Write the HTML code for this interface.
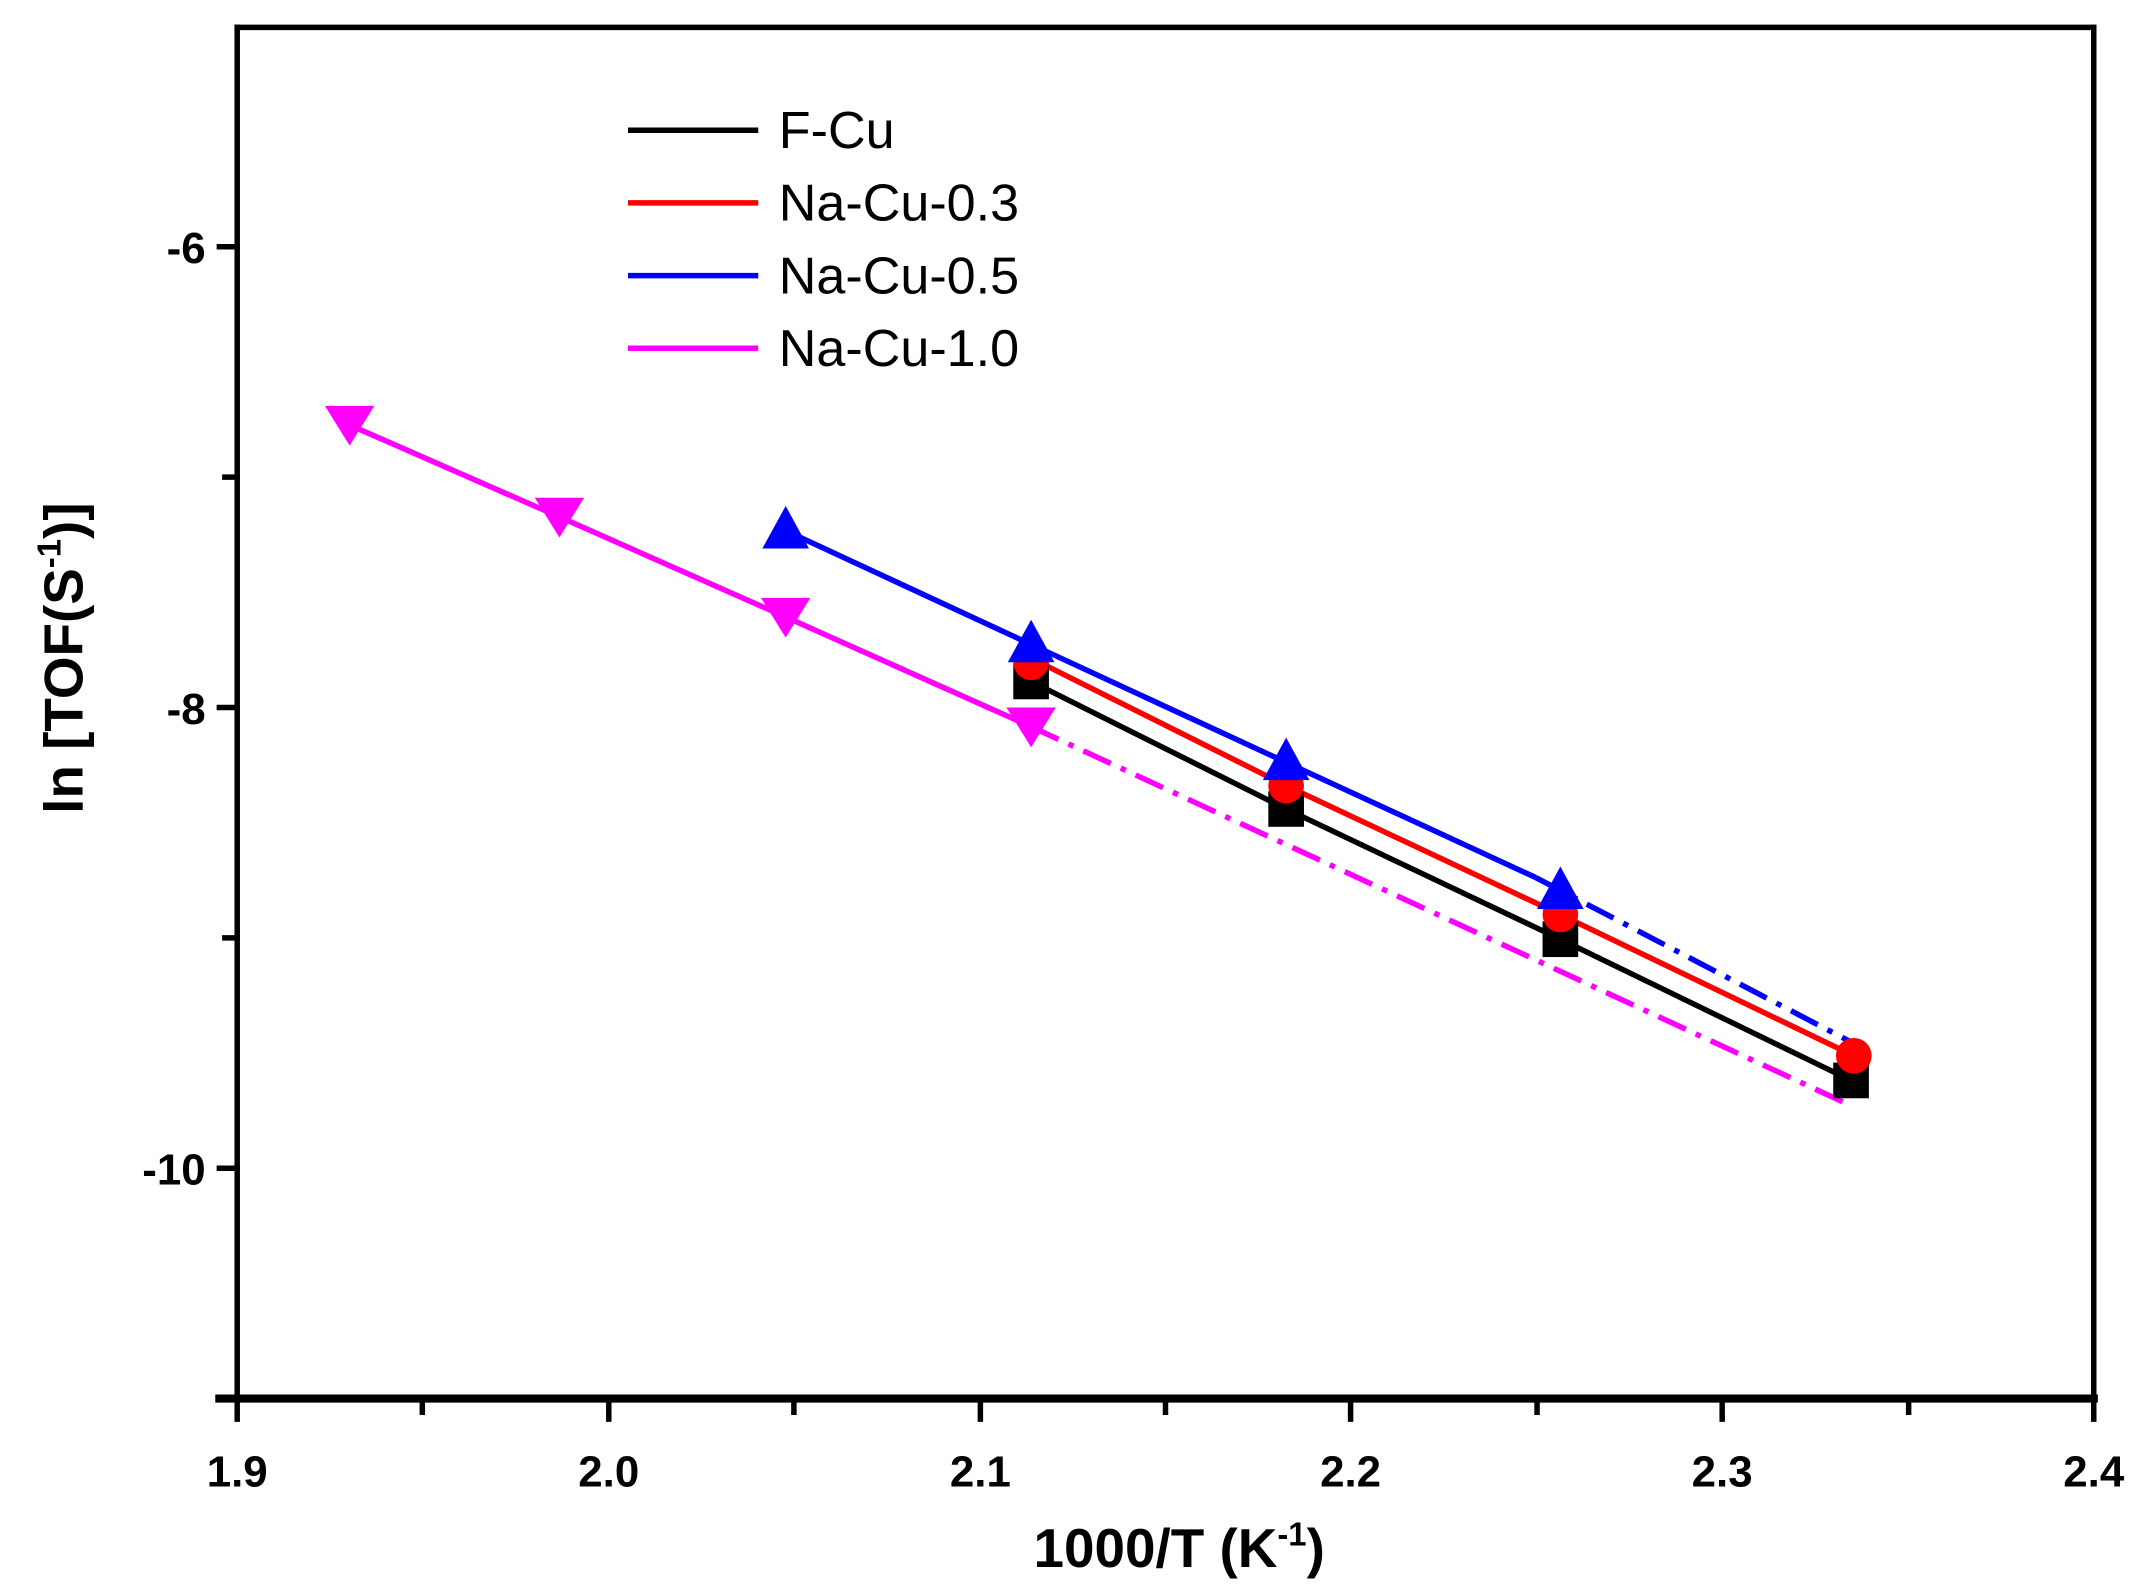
<!DOCTYPE html>
<html><head><meta charset="utf-8"><style>
html,body{margin:0;padding:0;background:#fff;}
svg{display:block;}
text{font-family:"Liberation Sans",Arial,sans-serif;}
</style></head><body>
<svg width="2139" height="1596" viewBox="0 0 1560 1164" preserveAspectRatio="none" xmlns="http://www.w3.org/2000/svg">
<rect width="1560" height="1164" fill="#fff"/>
<g stroke="#000" fill="none" stroke-linecap="square">
<line x1="173" y1="20" x2="1527" y2="20" stroke-width="4"/>
<line x1="1527" y1="20" x2="1527" y2="1020" stroke-width="4"/>
<line x1="173" y1="20" x2="173" y2="1020" stroke-width="4"/>
<line x1="160" y1="1020" x2="1527" y2="1020" stroke-width="6"/>
<line x1="160" y1="180" x2="173" y2="180" stroke-width="4"/>
<line x1="160" y1="516" x2="173" y2="516" stroke-width="4"/>
<line x1="160" y1="852" x2="173" y2="852" stroke-width="4"/>
<line x1="164" y1="348" x2="173" y2="348" stroke-width="4"/>
<line x1="164" y1="684" x2="173" y2="684" stroke-width="4"/>
<line x1="173" y1="1020" x2="173" y2="1035" stroke-width="4"/>
<line x1="444" y1="1020" x2="444" y2="1035" stroke-width="4"/>
<line x1="715" y1="1020" x2="715" y2="1035" stroke-width="4"/>
<line x1="985" y1="1020" x2="985" y2="1035" stroke-width="4"/>
<line x1="1256" y1="1020" x2="1256" y2="1035" stroke-width="4"/>
<line x1="1527" y1="1020" x2="1527" y2="1035" stroke-width="4"/>
<line x1="308" y1="1020" x2="308" y2="1030" stroke-width="4"/>
<line x1="579" y1="1020" x2="579" y2="1030" stroke-width="4"/>
<line x1="850" y1="1020" x2="850" y2="1030" stroke-width="4"/>
<line x1="1121" y1="1020" x2="1121" y2="1030" stroke-width="4"/>
<line x1="1392" y1="1020" x2="1392" y2="1030" stroke-width="4"/>
</g>
<g font-size="32" font-weight="bold" fill="#000">
<text x="150" y="192" text-anchor="end">-6</text>
<text x="150" y="528" text-anchor="end">-8</text>
<text x="150" y="864" text-anchor="end">-10</text>
<g text-anchor="middle">
<text x="173" y="1084">1.9</text>
<text x="444" y="1084">2.0</text>
<text x="715" y="1084">2.1</text>
<text x="985" y="1084">2.2</text>
<text x="1256" y="1084">2.3</text>
<text x="1527" y="1084">2.4</text>
</g>
</g>
<text x="860" y="1143" text-anchor="middle" font-size="40" font-weight="bold">1000/T (K<tspan font-size="24" dy="-16">-1</tspan><tspan dy="16">)</tspan></text>
<text transform="translate(60,480) rotate(-90)" text-anchor="middle" font-size="40" font-weight="bold">ln [TOF(S<tspan font-size="24" dy="-16">-1</tspan><tspan dy="16">)]</tspan></text>
<g stroke-width="4">
<line x1="458" y1="95" x2="553" y2="95" stroke="#000"/>
<line x1="458" y1="148" x2="553" y2="148" stroke="#f00"/>
<line x1="458" y1="201" x2="553" y2="201" stroke="#00f"/>
<line x1="458" y1="254" x2="553" y2="254" stroke="#f0f"/>
</g>
<g font-size="38" fill="#000">
<text x="568" y="108">F-Cu</text>
<text x="568" y="161">Na-Cu-0.3</text>
<text x="568" y="214">Na-Cu-0.5</text>
<text x="568" y="267">Na-Cu-1.0</text>
</g>
<g fill="none" stroke-width="4">
<polyline points="255,310 408,377 573,450 752,530" stroke="#f0f"/>
<line x1="752" y1="530" x2="1347" y2="805" stroke="#f0f" stroke-dasharray="22,8,4,8"/>
<polyline points="573,387 752,470 938,556 1120,640" stroke="#00f"/>
<line x1="1120" y1="640" x2="1350" y2="760" stroke="#00f" stroke-dasharray="22,8,4,8"/>
<polyline points="752,480 938,573 1138,667 1352,770" stroke="#f00"/>
<polyline points="752,497 938,590 1138,685 1350,788" stroke="#000"/>
</g>
<g fill="#000">
<rect x="739" y="484" width="26" height="26"/>
<rect x="925" y="577" width="26" height="26"/>
<rect x="1125" y="672" width="26" height="26"/>
<rect x="1337" y="775" width="26" height="26"/>
</g>
<g fill="#f00">
<circle cx="752" cy="483" r="13"/>
<circle cx="938" cy="573" r="13"/>
<circle cx="1138" cy="667" r="13"/>
<circle cx="1352" cy="770" r="13"/>
</g>
<g fill="#00f">
<polygon points="573,369 556,400 590,400"/>
<polygon points="752,452 735,483 769,483"/>
<polygon points="938,538 921,569 955,569"/>
<polygon points="1138,632 1121,663 1155,663"/>
</g>
<g fill="#f0f">
<polygon points="237,296 273,296 255,325"/>
<polygon points="390,363 426,363 408,392"/>
<polygon points="555,436 591,436 573,465"/>
<polygon points="734,516 770,516 752,545"/>
</g>
</svg>
</body></html>
